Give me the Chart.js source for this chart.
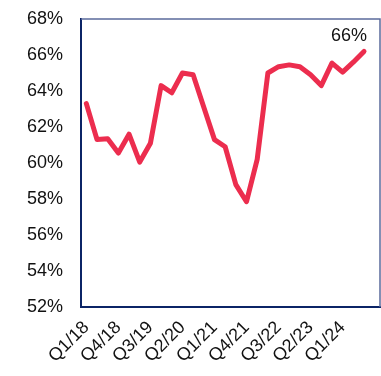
<!DOCTYPE html>
<html>
<head>
<meta charset="utf-8">
<script src="https://cdn.jsdelivr.net/npm/chart.js@4.4.1/dist/chart.umd.min.js"></script>
<style>
  html, body { margin: 0; padding: 0; background: #fff; }
  #wrap { width: 381px; height: 376px; }
</style>
</head>
<body>
<div id="wrap"><canvas id="share-chart" width="381" height="376"></canvas></div>
<script>
// quarters Q1/18 .. Q4/24
const quarters = [
    "Q1/18", "Q2/18", "Q3/18", "Q4/18",
    "Q1/19", "Q2/19", "Q3/19", "Q4/19",
    "Q1/20", "Q2/20", "Q3/20", "Q4/20",
    "Q1/21", "Q2/21", "Q3/21", "Q4/21",
    "Q1/22", "Q2/22", "Q3/22", "Q4/22",
    "Q1/23", "Q2/23", "Q3/23", "Q4/23",
    "Q1/24", "Q2/24", "Q3/24", "Q4/24"
];

// quarters that get an axis label
const labelledQuarters = ["Q1/18", "Q4/18", "Q3/19", "Q2/20", "Q1/21", "Q4/21", "Q3/22", "Q2/23", "Q1/24"];

// share in %, no value yet for Q4/24
const shareValues = [
    63.3, 61.3, 61.35, 60.55, 61.6, 60.05, 61.1, 64.3,
    63.9, 65.0, 64.9, 63.1, 61.3, 60.9, 58.8, 57.85,
    60.2, 65.0, 65.35, 65.45, 65.35, 64.9, 64.3, 65.55,
    65.05, 65.6, 66.2, null
];

const yTicks = [52, 54, 56, 58, 60, 62, 64, 66, 68];

const LINE_COLOR = "#ec2d4e";
const FRAME_DARK = "#0b2466";
const FRAME_LIGHT = "#5b6b9c";
const FONT = "'Liberation Sans', Arial, sans-serif";

// top and right edges of the plot frame
const frameEdges = {
    id: "frameEdges",
    afterDraw(chart) {
        const { ctx, chartArea: a } = chart;
        ctx.save();
        ctx.strokeStyle = FRAME_LIGHT;
        ctx.lineWidth = 1.5;
        ctx.beginPath();
        ctx.moveTo(a.left, a.top);
        ctx.lineTo(a.right, a.top);
        ctx.lineTo(a.right, a.bottom);
        ctx.stroke();
        ctx.restore();
    }
};

// value label on the latest point
const lastLabel = {
    id: "lastLabel",
    afterDatasetsDraw(chart) {
        const meta = chart.getDatasetMeta(0);
        let idx = shareValues.length - 1;
        while (idx > 0 && shareValues[idx] === null) idx--;
        const pt = meta.data[idx];
        const { ctx } = chart;
        ctx.save();
        ctx.fillStyle = "#111";
        ctx.font = "18px " + FONT;
        ctx.textAlign = "center";
        ctx.textBaseline = "bottom";
        ctx.fillText(shareValues[idx].toFixed(0) + "%", pt.x - 15, pt.y - 6);
        ctx.restore();
    }
};

new Chart(document.getElementById("share-chart"), {
    type: "line",
    data: {
        labels: quarters,
        datasets: [{
            data: shareValues,
            borderColor: LINE_COLOR,
            borderWidth: 5,
            borderJoinStyle: "round",
            borderCapStyle: "round",
            tension: 0,
            pointRadius: 0,
            fill: false
        }]
    },
    options: {
        responsive: false,
        animation: false,
        layout: { padding: { top: 19, right: 1, left: 0, bottom: 0 } },
        plugins: {
            legend: { display: false },
            tooltip: { enabled: false }
        },
        scales: {
            x: {
                offset: true,
                grid: { display: false, drawTicks: false },
                border: { color: FRAME_DARK, width: 2 },
                afterFit: s => {
                    s.height = 69;
                    s.paddingLeft = 0;
                    s.paddingRight = 0;
                },
                ticks: {
                    autoSkip: false,
                    maxRotation: 45,
                    minRotation: 45,
                    padding: 10,
                    color: "#111",
                    font: { family: FONT, size: 18 },
                    callback: (v, i) => (labelledQuarters.includes(quarters[i]) ? quarters[i] : "")
                }
            },
            y: {
                min: 52,
                max: 68,
                grid: { display: false, drawTicks: false },
                border: { color: FRAME_DARK, width: 2 },
                afterFit: s => {
                    s.width = 81;
                    s.paddingTop = 0;
                    s.paddingBottom = 0;
                },
                afterBuildTicks: s => { s.ticks = yTicks.map(v => ({ value: v })); },
                ticks: {
                    padding: 18,
                    color: "#111",
                    font: { family: FONT, size: 18 },
                    callback: v => v + "%"
                }
            }
        }
    },
    plugins: [frameEdges, lastLabel]
});
</script>
</body>
</html>
